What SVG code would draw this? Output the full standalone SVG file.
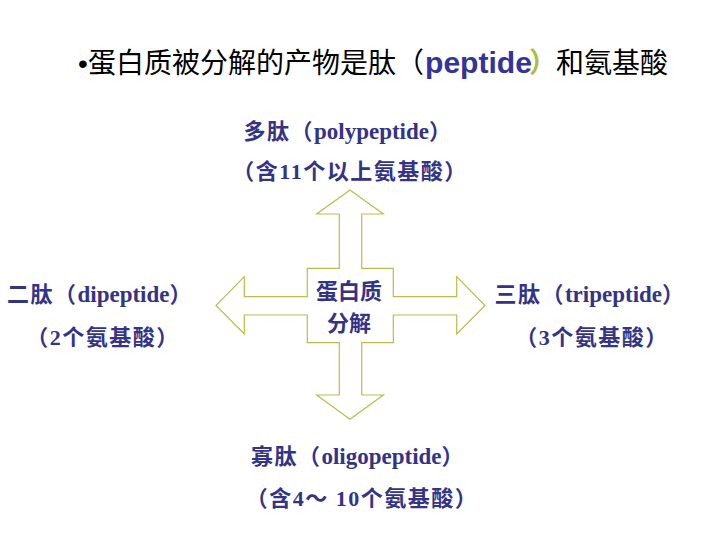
<svg xmlns="http://www.w3.org/2000/svg" width="720" height="540" viewBox="0 0 720 540">
<style>
.title{font-family:"Noto Sans CJK SC","Liberation Sans",sans-serif;font-size:28px;fill:#000}
.pep{font-family:"Liberation Sans",Arial,sans-serif;font-weight:bold;fill:#333399}
.lbl{font-family:"Liberation Serif","Noto Sans CJK SC",serif;font-weight:bold;font-size:22px;fill:#333388;text-anchor:middle;letter-spacing:1.5px}
.lat{font-size:23px;letter-spacing:0}
.ctr{font-family:"Noto Sans CJK SC",sans-serif;font-weight:bold;font-size:22px;fill:#333388;text-anchor:middle}
.arrow{fill:#fff;stroke:#bcbc4c;stroke-width:1.2;stroke-linejoin:miter}
</style>
<rect width="720" height="540" fill="#fff"/>
<g id="title">
<text class="title" x="78" y="73"><tspan font-family="Liberation Sans, sans-serif">•</tspan><tspan x="88">蛋白质被分解的产物是肽（</tspan><tspan class="pep" x="425" font-size="29" textLength="107" lengthAdjust="spacingAndGlyphs">peptide</tspan><tspan x="529" fill="#a8c040" font-weight="bold">）</tspan><tspan x="556">和氨基酸</tspan></text>
</g>
<g id="connectors">
<path class="arrow" d="M350,190 L383.3,214 L361.7,214 L361.7,268.3 L393.3,268.3 L393.3,296.7 L456.7,296.7 L456.7,276.7 L485,305.5 L456.7,334 L456.7,315 L393.3,315 L393.3,342.7 L361.7,342.7 L361.7,395 L383.3,395 L350,419.3 L316.7,395 L339.3,395 L339.3,342.7 L307.3,342.7 L307.3,315 L244.3,315 L244.3,334 L216,305.5 L244.3,276.7 L244.3,296.7 L307.3,296.7 L307.3,268.3 L339.3,268.3 L339.3,214 L316.7,214 Z"/>
</g>
<g id="center">
<text class="ctr" x="349" y="299">蛋白质</text>
<text class="ctr" x="349" y="331">分解</text>
</g>
<g id="polypeptide">
<text class="lbl" x="348" y="139">多肽（<tspan class="lat">polypeptide</tspan>）</text>
<text class="lbl" x="350" y="179">（含11个以上氨基酸）</text>
</g>
<g id="dipeptide">
<text class="lbl" x="100" y="302">二肽（<tspan class="lat">dipeptide</tspan>）</text>
<text class="lbl" x="103" y="345">（2个氨基酸）</text>
</g>
<g id="tripeptide">
<text class="lbl" x="590" y="302">三肽（<tspan class="lat">tripeptide</tspan>）</text>
<text class="lbl" x="592" y="345">（3个氨基酸）</text>
</g>
<g id="oligopeptide">
<text class="lbl" x="358" y="464">寡肽（<tspan class="lat">oligopeptide</tspan>）</text>
<text class="lbl" x="362" y="506">（含4～ 10个氨基酸）</text>
</g>
</svg>
